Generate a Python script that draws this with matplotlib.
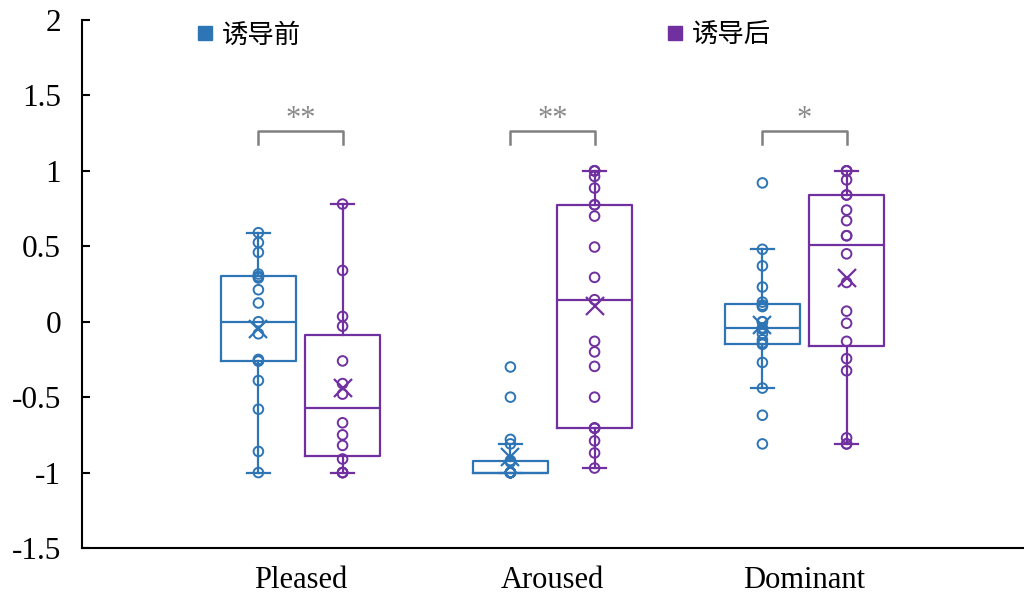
import numpy as np
import matplotlib.pyplot as plt
from matplotlib.lines import Line2D

# categories and groups
categories = ['Pleased', 'Aroused', 'Dominant']
groups = ['诱导前', '诱导后']
colors = ['#2E75B6', '#7030A0']

# values (before / after induction)
pleased_before = [0.59, 0.525, 0.46, 0.316, 0.30, 0.29, 0.212, 0.124, 0.0,
                  -0.08, -0.25, -0.26, -0.26, -0.39, -0.58, -0.86, -1.0]
pleased_after = [0.78, 0.34, 0.035, -0.03, -0.26, -0.41, -0.48, -0.67, -0.75,
                 -0.82, -0.91, -1.0, -1.0, -1.0]
aroused_before = [-0.3, -0.5, -0.78, -0.81, -0.92, -0.93] + [-1.0] * 11
aroused_after = [1.0, 1.0, 1.0, 0.963, 0.886, 0.775, 0.775, 0.70, 0.495, 0.294,
                 0.146, -0.13, -0.20, -0.296, -0.50, -0.705, -0.705, -0.705,
                 -0.79, -0.87, -0.97]
dominant_before = [0.92, 0.48, 0.37, 0.23, 0.13, 0.11, 0.1, 0.0, 0.0, -0.04,
                   -0.05, -0.08, -0.12, -0.14, -0.15, -0.27, -0.44, -0.62, -0.81]
dominant_after = [1.0, 1.0, 1.0, 0.94, 0.84, 0.84, 0.74, 0.67, 0.57, 0.57, 0.45,
                  0.26, 0.07, -0.01, -0.13, -0.245, -0.325, -0.77, -0.81, -0.81]

before = [pleased_before, aroused_before, dominant_before]
after = [pleased_after, aroused_after, dominant_after]
signif = ['**', '**', '*']

plt.rcParams['font.family'] = ['Liberation Serif', 'DejaVu Sans']

fig = plt.figure(figsize=(10.24, 5.97), dpi=100)
ax = fig.add_axes([82 / 1024, 49 / 597, 1 - 82 / 1024, 528 / 597])

x = np.arange(len(categories))
off = 0.167

for data, sign, col in zip([before, after], [-1, 1], colors):
    pos = x + sign * off
    ax.boxplot(data, positions=pos, widths=0.30, whis=1.5, showfliers=False,
               showmeans=True, capwidths=0.09, manage_ticks=False,
               boxprops=dict(color=col, linewidth=1.6),
               medianprops=dict(color=col, linewidth=1.6),
               whiskerprops=dict(color=col, linewidth=1.6),
               capprops=dict(color=col, linewidth=1.6),
               meanprops=dict(marker='x', markeredgecolor=col, markersize=13,
                              markeredgewidth=1.6))
    for p, d in zip(pos, data):
        ax.scatter([p] * len(d), d, s=48, facecolors='none', edgecolors=col,
                   linewidths=1.4, zorder=3)

# significance brackets
top, drop = 1.265, 0.085
for xi, s in zip(x, signif):
    ax.plot([xi - off, xi - off, xi + off, xi + off],
            [top - drop, top, top, top - drop], color='#808080', lw=1.8)
    ax.text(xi, top - 0.02, s, ha='center', va='bottom', color='#8a8a8a',
            fontsize=22)

ax.set_xlim(-0.867, 2.871)
ax.set_ylim(-1.5, 2)
ax.set_yticks(np.arange(-1.5, 2.01, 0.5))
ax.set_yticklabels(['-1.5', '-1', '-0.5', '0', '0.5', '1', '1.5', '2'])
ax.set_xticks(x)
ax.set_xticklabels(categories)
ax.tick_params(axis='y', direction='in', length=6, width=1.5, pad=15,
               labelsize=22.5)
ax.tick_params(axis='x', length=0, pad=13, labelsize=22)
for sp in ['top', 'right']:
    ax.spines[sp].set_visible(False)
for sp in ['left', 'bottom']:
    ax.spines[sp].set_linewidth(1.5)

handles = [Line2D([], [], ls='none', marker='s', markersize=10, color=c)
           for c in colors]
fig.legend(handles, groups, loc='center left',
           bbox_to_anchor=(194.5 / 1024, 1 - 35 / 597), ncol=2, frameon=False,
           borderpad=0, borderaxespad=0, handlelength=0.8, handletextpad=0.25,
           columnspacing=13.75,
           prop={'family': ['Noto Sans CJK SC', 'DejaVu Sans'], 'size': 19})

fig.savefig('out.png', dpi=100)
